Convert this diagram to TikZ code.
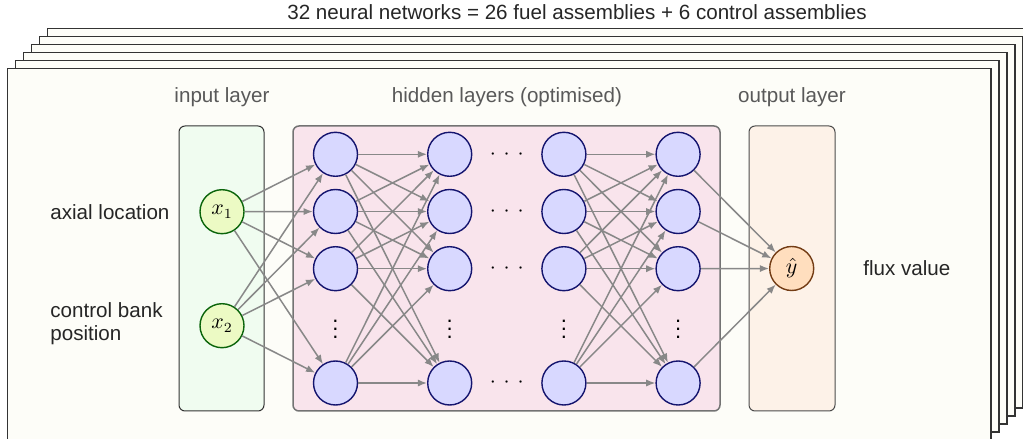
\documentclass[tikz,border=0pt]{standalone}
\usepackage{fontspec}
\setmainfont{Liberation Sans}
\usetikzlibrary{arrows.meta,positioning}
\definecolor{sheetfill}{RGB}{253,253,248}
\definecolor{infill}{RGB}{240,252,240}
\definecolor{hidboxfill}{RGB}{249,228,236}
\definecolor{outboxfill}{RGB}{253,242,232}
\definecolor{hidfill}{RGB}{216,216,255}
\definecolor{hiddraw}{RGB}{20,20,110}
\definecolor{inpfill}{RGB}{236,250,196}
\definecolor{inpdraw}{RGB}{10,100,10}
\definecolor{outfill}{RGB}{255,222,190}
\definecolor{outdraw}{RGB}{115,60,20}
\definecolor{edgegray}{RGB}{136,136,136}

\begin{document}
\begin{tikzpicture}[x=0.5pt,y=0.5pt,
    font=\fontsize{10.3}{11.5}\selectfont,
    sheet/.style={draw=black!80,fill=sheetfill,line width=0.55pt},
    layerbox/.style={rounded corners=3pt,line width=0.5pt},
    neuron/.style={circle,minimum size=22pt,inner sep=0pt,line width=0.7pt,
        font=\fontsize{10.5}{12}\selectfont},
    hid/.style={neuron,draw=hiddraw,fill=hidfill},
    inp/.style={neuron,draw=inpdraw,fill=inpfill},
    outp/.style={neuron,draw=outdraw,fill=outfill},
    conn/.style={draw=edgegray,line width=0.75pt,-{Latex[length=4.6pt,width=3.6pt]}},
    dots/.style={inner sep=0pt,font=\fontsize{11}{12}\selectfont},
    caption/.style={text=black!65,inner sep=0pt},
    sidelabel/.style={text=black!85,inner sep=0pt,anchor=west,align=left}]
        \def\dx{114.2}
        \clip (0,0) rectangle (1023,439);
        \fill[white] (0,0) rectangle (1023,439);
        %Stack of sheets
        \foreach \k in {5,4,...,0}
            \draw[sheet] (7.3+8*\k,-1+8*\k) rectangle (991+8*\k,370.7+8*\k);
        \node[text=black!85,inner sep=0pt] (title) at (577,427)
            {32 neural networks = 26 fuel assemblies + 6 control assemblies};
        %Layer boxes
        \draw[layerbox,fill=infill,draw=black!80] (179,28) rectangle (264,313);
        \draw[layerbox,fill=hidboxfill,draw=black!55,line width=0.75pt] (293,28) rectangle (720,313);
        \draw[layerbox,fill=outboxfill,draw=black!70] (749,28) rectangle (835,313);
        \node[caption] (inlab) at (222,342) {input layer};
        \node[caption] (hidlab) at (507,342) {hidden layers (optimised)};
        \node[caption] (outlab) at (792,342) {output layer};
        %Inputs and output
        \node[inp] (x1) at (222,227.3) {$x_1$};
        \node[inp] (x2) at (222,113.3) {$x_2$};
        \node[outp] (yhat) at (791.7,170.5) {$\hat{y}$};
        \node[sidelabel] (axial) at (50,227) {axial location};
        \node[sidelabel] (bank) at (50,115.4) {control bank\\position};
        \node[sidelabel] (flux) at (863,171) {flux value};
        %Hidden neurons
        \foreach \c in {1,...,4} {
            \foreach \r/\yy in {1/284.7,2/227.5,3/170.3,4/56}
                \node[hid] (h\c-\r) at (335.5+\dx*\c-\dx,\yy) {};
            \node[dots] (vd\c) at (335.5+\dx*\c-\dx,116) {$\vdots$};
        }
        \foreach \r/\yy in {1/284.7,2/227.5,3/170.3,4/56}
            \node[dots] (hd\r) at (506.8,\yy) {$\cdotp\mkern3.5mu\cdotp\mkern3.5mu\cdotp$};
        %Connections
        \foreach \r in {1,...,4} {
            \draw[conn] (x1) -- (h1-\r);
            \draw[conn] (x2) -- (h1-\r);
            \draw[conn] (h4-\r) -- (yhat);
        }
        \foreach \a in {1,...,4}
            \foreach \b in {1,...,4} {
                \draw[conn] (h1-\a) -- (h2-\b);
                \draw[conn] (h3-\a) -- (h4-\b);
            }
      \end{tikzpicture}
\end{document}
